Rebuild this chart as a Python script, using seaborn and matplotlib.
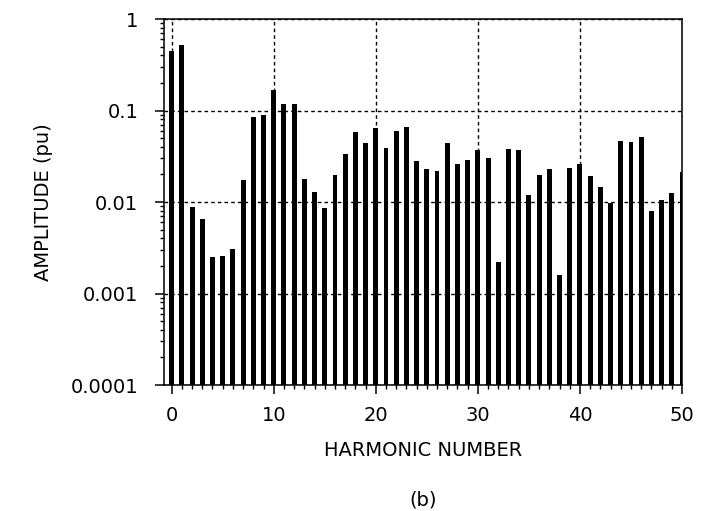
import matplotlib
matplotlib.use("Agg")
import matplotlib.pyplot as plt
import seaborn as sns
import pandas as pd
import numpy as np
from matplotlib.ticker import MultipleLocator, LogLocator, FixedLocator, FixedFormatter, NullFormatter

# ---- data ----
harmonics = list(range(0, 51))
amplitudes = [
    0.45, 0.52, 0.0088, 0.0065, 0.0025, 0.0026, 0.0031, 0.0174, 0.084, 0.090,
    0.169, 0.118, 0.117, 0.018, 0.0128, 0.0085, 0.0197, 0.0337, 0.0587, 0.0438,
    0.0649, 0.0389, 0.0597, 0.0665, 0.0283, 0.023, 0.0218, 0.0445, 0.0262, 0.0285,
    0.037, 0.0305, 0.0022, 0.0383, 0.0367, 0.0119, 0.0196, 0.0228, 0.00158, 0.0235,
    0.0262, 0.0194, 0.0146, 0.0098, 0.0464, 0.0449, 0.0518, 0.0079, 0.0106, 0.0124,
    0.0214,
]
xtick_values = [0, 10, 20, 30, 40, 50]
ytick_values = [0.0001, 0.001, 0.01, 0.1, 1]
ytick_labels = ["0.0001", "0.001", "0.01", "0.1", "1"]
x_title = "HARMONIC NUMBER"
y_title = "AMPLITUDE (pu)"
caption = "(b)"

df = pd.DataFrame({"harmonic": harmonics, "amplitude": amplitudes})

sns.set_theme(style="ticks")
plt.rcParams["font.family"] = ["DejaVu Sans"]
plt.rcParams["text.color"] = "black"
plt.rcParams["axes.labelcolor"] = "black"
plt.rcParams["xtick.color"] = "black"
plt.rcParams["ytick.color"] = "black"

W, H = 717, 511
fig = plt.figure(figsize=(W / 100, H / 100), dpi=100)
ax = fig.add_axes([164 / W, 1 - 385 / H, (682 - 164) / W, (385 - 19) / H])

sns.barplot(data=df, x="harmonic", y="amplitude", native_scale=True,
            color="black", saturation=1, width=0.48, linewidth=0,
            errorbar=None, ax=ax)
ax.set_yscale("log")

ax.set_xlim(-0.75, 50)
ax.set_ylim(1e-4, 1)

ax.xaxis.set_major_locator(FixedLocator(xtick_values))
ax.xaxis.set_minor_locator(MultipleLocator(1))
ax.yaxis.set_major_locator(FixedLocator(ytick_values))
ax.yaxis.set_major_formatter(FixedFormatter(ytick_labels))
ax.yaxis.set_minor_locator(LogLocator(base=10, subs=np.arange(2, 10)))
ax.yaxis.set_minor_formatter(NullFormatter())

ax.tick_params(axis="both", which="major", direction="out", length=6.5, width=1.1,
               labelsize=14)
ax.tick_params(axis="x", which="major", pad=8.5)
ax.tick_params(axis="y", which="major", pad=12)
ax.tick_params(axis="both", which="minor", direction="out", length=3.2, width=1.0)

for s in ax.spines.values():
    s.set_visible(True)
    s.set_color("black")
    s.set_linewidth(1.1)

ax.grid(True, which="major", axis="both", color="black",
        linestyle=(0, (2.6, 2.2)), linewidth=1.0)
ax.set_axisbelow(True)

ax.set_xlabel(x_title, fontsize=14)
ax.set_ylabel(y_title, fontsize=14)
ax.xaxis.set_label_coords(0.5, -(441 - 385) / 366)
ax.yaxis.set_label_coords((53 - 164) / 518, 0.5)

fig.text(423 / W, 1 - 506 / H, caption, ha="center", va="baseline", fontsize=14)

fig.savefig("out.png", dpi=100)
